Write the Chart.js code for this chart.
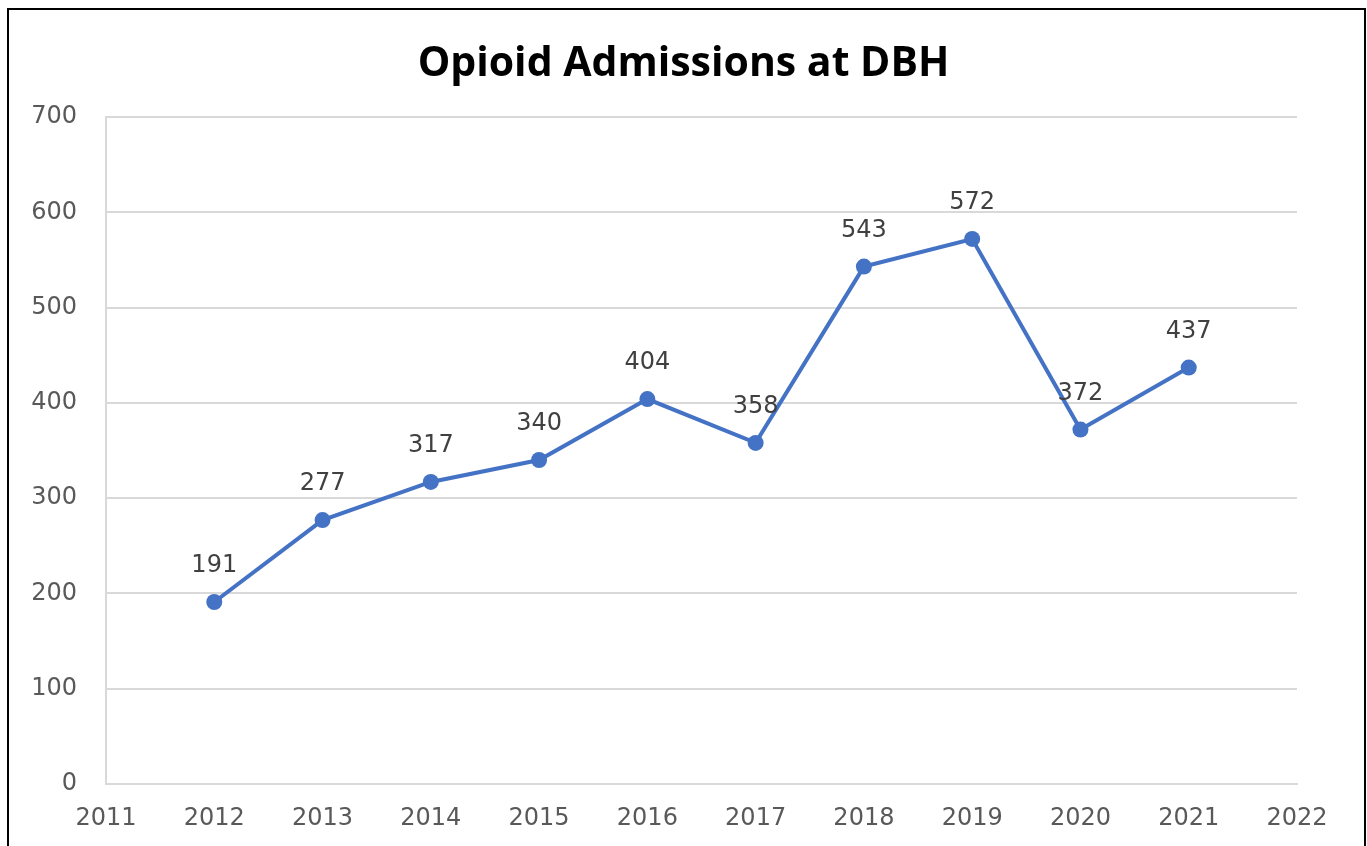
<!DOCTYPE html>
<html>
<head>
<meta charset="utf-8">
<title>Opioid Admissions at DBH</title>
<script src="https://cdn.jsdelivr.net/npm/chart.js@4/dist/chart.umd.min.js"></script>
<style>
  html, body { margin: 0; padding: 0; background: #fff; }
  #wrap { position: absolute; left: 0; top: 0; width: 1367px; height: 846px; }
</style>
</head>
<body>
<div id="wrap"><canvas id="chart"></canvas></div>
<script>
// yearly opioid admissions
var years = [2012, 2013, 2014, 2015, 2016, 2017, 2018, 2019, 2020, 2021];
var admissions = [191, 277, 317, 340, 404, 358, 543, 572, 372, 437];
var xRange = [2011, 2022];
var yRange = [0, 700];
var chartTitle = 'Opioid Admissions at DBH';

var points = years.map(function (y, i) { return { x: y, y: admissions[i] }; });

// white page, black frame and a title centred on the whole page
var framePlugin = {
    id: 'frame',
    beforeDraw: function (chart) {
        var c = chart.ctx;
        c.save();
        c.fillStyle = '#fff';
        c.fillRect(0, 0, chart.width, chart.height);
        c.strokeStyle = '#000';
        c.lineWidth = 2;
        c.strokeRect(8, 9, 1357, 860);
        c.fillStyle = '#000';
        c.font = 'bold 41px "Open Sans"';
        c.textAlign = 'center';
        c.textBaseline = 'alphabetic';
        c.fillText(chartTitle, chart.width / 2, 76);
        c.restore();
    }
};

// value labels above each marker
var valueLabels = {
    id: 'valueLabels',
    afterDatasetsDraw: function (chart) {
        var c = chart.ctx;
        var meta = chart.getDatasetMeta(0);
        c.save();
        c.font = '24px "DejaVu Sans"';
        c.fillStyle = '#404040';
        c.textAlign = 'center';
        c.textBaseline = 'middle';
        meta.data.forEach(function (pt, i) {
            c.fillText(String(admissions[i]), pt.x, pt.y - 36);
        });
        c.restore();
    }
};

new Chart(document.getElementById('chart'), {
    type: 'line',
    data: {
        datasets: [{
            data: points,
            borderColor: '#4472C4',
            backgroundColor: '#4472C4',
            borderWidth: 4,
            pointRadius: 8,
            pointHoverRadius: 8,
            pointBorderWidth: 0,
            tension: 0
        }]
    },
    options: {
        responsive: true,
        maintainAspectRatio: false,
        animation: false,
        layout: { padding: { left: 0, right: 70, top: 117, bottom: 0 } },
        plugins: {
            legend: { display: false },
            tooltip: { enabled: false },
            title: { display: false }
        },
        scales: {
            x: {
                type: 'linear',
                min: xRange[0],
                max: xRange[1],
                grid: { display: false, drawTicks: false },
                border: { display: true, color: '#d9d9d9', width: 2 },
                ticks: {
                    stepSize: 1,
                    padding: 20,
                    color: '#595959',
                    font: { family: '"DejaVu Sans"', size: 24 },
                    maxRotation: 0,
                    callback: function (v) { return String(v); }
                },
                afterFit: function (s) { s.height = 62; }
            },
            y: {
                min: yRange[0],
                max: yRange[1],
                grid: { color: '#d9d9d9', lineWidth: 2, drawTicks: false },
                border: { display: true, color: '#d9d9d9', width: 2 },
                ticks: {
                    stepSize: 100,
                    padding: 29,
                    color: '#595959',
                    font: { family: '"DejaVu Sans"', size: 24 }
                },
                afterFit: function (s) { s.width = 106; }
            }
        }
    },
    plugins: [framePlugin, valueLabels]
});
</script>
</body>
</html>
